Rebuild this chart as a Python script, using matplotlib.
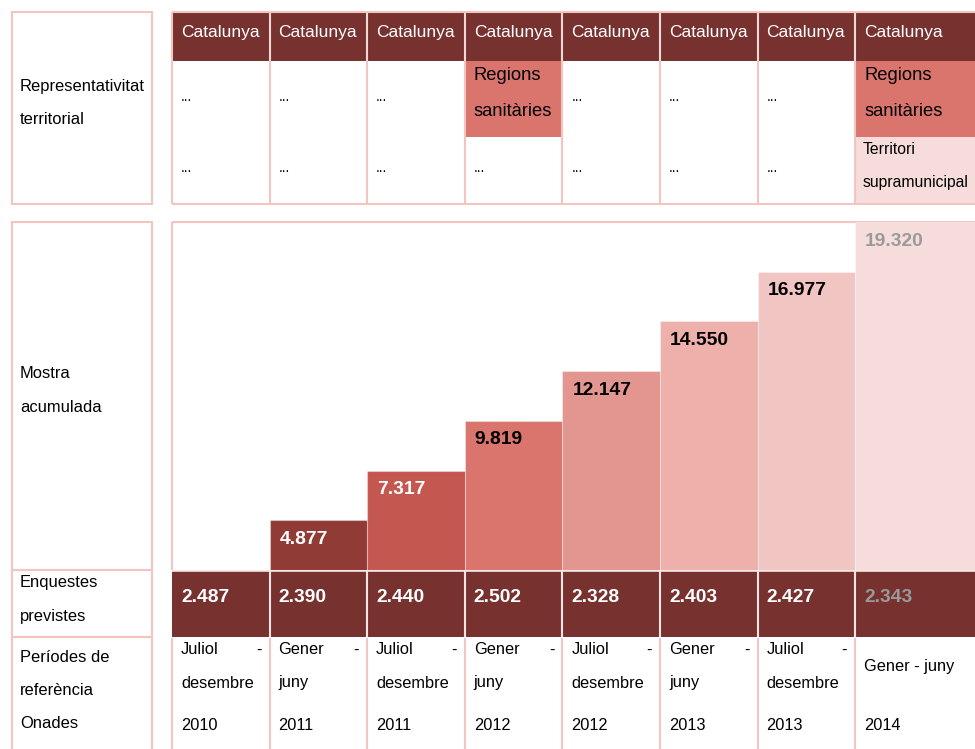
import matplotlib
matplotlib.use('Agg')
import matplotlib.pyplot as plt
from matplotlib.patches import Rectangle
from matplotlib import font_manager
import numpy as np

# ---------------- data ----------------
territory_top = ['Catalunya'] * 8
territory_mid = ['...', '...', '...', 'Regions\nsanitàries', '...', '...', '...', 'Regions\nsanitàries']
territory_low = ['...', '...', '...', '...', '...', '...', '...', 'Territori\nsupramunicipal']
surveys = [2487, 2390, 2440, 2502, 2328, 2403, 2427, 2343]
accumulated = [2487, 4877, 7317, 9819, 12147, 14550, 16977, 19320]
period_start = ['Juliol', 'Gener', 'Juliol', 'Gener', 'Juliol', 'Gener', 'Juliol', 'Gener']
period_end = ['desembre', 'juny', 'desembre', 'juny', 'desembre', 'juny', 'desembre', 'juny']
years = ['2010', '2011', '2011', '2012', '2012', '2013', '2013', '2014']
row_labels = ['Representativitat\nterritorial', 'Mostra\nacumulada', 'Enquestes\nprevistes',
              'Períodes de\nreferència\nOnades']

# staircase level of each wave (first wave is not drawn as a bar)
stair_level = np.arange(len(accumulated))
bar_colors = ['#ffffff', '#913b37', '#c4574f', '#d9756d', '#e3958f', '#edb0ab', '#f1c5c1', '#f7dcdc']
bar_text_colors = ['#000000', '#ffffff', '#ffffff', '#000000', '#000000', '#000000', '#000000', '#9a9a9a']
survey_text_colors = ['#ffffff'] * 7 + ['#9a9a9a']

# ---------------- style ----------------
names = {f.name for f in font_manager.fontManager.ttflist}
narrow = 'Liberation Sans Narrow' in names
FAM = ['Liberation Sans Narrow', 'DejaVu Sans'] if narrow else ['Liberation Sans', 'DejaVu Sans']
k = 1.0 if narrow else 0.87
plt.rcParams['font.family'] = FAM

DARK = '#773230'
PINK = '#f3c4c0'
MID = '#d9756d'
LIGHT = '#f7dcdc'

W, H = 975, 749
fig = plt.figure(figsize=(W / 100, H / 100), dpi=100)
lay = fig.add_axes([0, 0, 1, 1])
lay.set_xlim(0, W)
lay.set_ylim(H, 0)
lay.axis('off')

col_px = 97.6
x0 = 172
n = len(accumulated)
lefts = [x0 + i * col_px for i in range(n)]
rights = lefts[1:] + [W]


def rect(x1, y1, x2, y2, fc='none', ec='none', lw=0, z=1):
    lay.add_patch(Rectangle((x1, y1), x2 - x1, y2 - y1, facecolor=fc, edgecolor=ec, lw=lw, zorder=z))


def vline(x, y1, y2, c=PINK, lw=1.5, z=3):
    lay.plot([x, x], [y1, y2], color=c, lw=lw, zorder=z, solid_capstyle='butt')


def hline(y, x1, x2, c=PINK, lw=1.5, z=3):
    lay.plot([x1, x2], [y, y], color=c, lw=lw, zorder=z, solid_capstyle='butt')


def lines(x, y_first, txt, step, **kw):
    for j, part in enumerate(txt.split('\n')):
        lay.text(x, y_first + j * step, part, va='center', ha='left', zorder=5, **kw)


# left label boxes
for (y1, y2) in [(12, 204), (222, 570), (570, 637), (637, 760)]:
    rect(12, y1, 152, y2, ec=PINK, lw=1.5)

lab_size = 13.7 * k
lines(20, 86, row_labels[0], 33, fontsize=lab_size)
lines(20, 374, row_labels[1], 33, fontsize=lab_size)
lines(20, 582, row_labels[2], 34, fontsize=lab_size)
lines(20, 657, row_labels[3], 33.5, fontsize=lab_size)

# ---------------- top table ----------------
rect(172, 12, W, 61, fc=DARK)
for i in range(n):
    l, r = lefts[i], rights[i]
    lay.text(l + 9, 32, territory_top[i], color='white', fontsize=14.4 * k, va='center', ha='left')
    if territory_mid[i] != '...':
        rect(l, 61, r, 137, fc=MID, z=1)
        lines(l + 9, 75, territory_mid[i], 37, fontsize=15.2 * k)
    else:
        lay.text(l + 9, 97, territory_mid[i], fontsize=10, va='center', ha='left')
    if territory_low[i] != '...':
        rect(l, 137, r, 204, fc=LIGHT, z=1)
        lines(l + 7, 150, territory_low[i], 33, fontsize=13.8 * 0.82)
    else:
        lay.text(l + 9, 168, territory_low[i], fontsize=10, va='center', ha='left')
    if i > 0:
        vline(l, 12, 61, c='#f0d8d6', lw=1.5)
        vline(l, 61, 204)
vline(172, 12, 204)
hline(12, 172, W)
hline(204, 172, W)

# ---------------- accumulated sample (bar panel) ----------------
bx = fig.add_axes([172 / W, 1 - 570 / H, (W - 172) / W, 348 / H])
units_total = (W - 172) / col_px
bar_lefts = np.arange(n, dtype=float)
bar_widths = np.array([1.0] * (n - 1) + [units_total - (n - 1)])
bx.bar(bar_lefts, stair_level, width=bar_widths, align='edge', color=bar_colors,
       edgecolor=(1, 1, 1, 0.35), linewidth=0.8)
bx.set_xlim(0, units_total)
bx.set_ylim(0, stair_level.max())
bx.axis('off')
for i in range(1, n):
    bx.annotate(f"{accumulated[i]:,}".replace(',', '.'), xy=(bar_lefts[i], stair_level[i]),
                xytext=(10 * 0.72, -19 * 0.72), textcoords='offset points',
                ha='left', va='center', fontsize=16.5 * 0.84, fontweight='bold',
                color=bar_text_colors[i])
vline(172, 222, 570)
hline(222, 172, W)

# ---------------- planned surveys row ----------------
rect(172, 571, W, 637, fc=DARK)
hline(570.5, 172, W, c='#f4e4e2', lw=1.2)
for i in range(n):
    l = lefts[i]
    if i > 0:
        vline(l, 571, 637, c='#f4e4e2', lw=1.5)
    lay.text(l + 9, 598, f"{surveys[i]:,}".replace(',', '.'), color=survey_text_colors[i],
             fontsize=16.5 * 0.84, fontweight='bold', va='center', ha='left')

# ---------------- periods row ----------------
for i in range(n):
    l, r = lefts[i], rights[i]
    vline(l, 638, H + 5)
    if i < n - 1:
        lay.text(l + 9, 650, period_start[i], fontsize=13.6 * k, va='center', ha='left')
        lay.text(r - 8, 650, '-', fontsize=13.6 * k, va='center', ha='right')
        lay.text(l + 9, 683, period_end[i], fontsize=13.6 * k, va='center', ha='left')
    else:
        lay.text(l + 9, 666, f"{period_start[i]} - {period_end[i]}", fontsize=13.6 * k,
                 va='center', ha='left')
    lay.text(l + 9, 725, years[i], fontsize=13.6 * k, va='center', ha='left')

fig.savefig('out.png', dpi=100)
